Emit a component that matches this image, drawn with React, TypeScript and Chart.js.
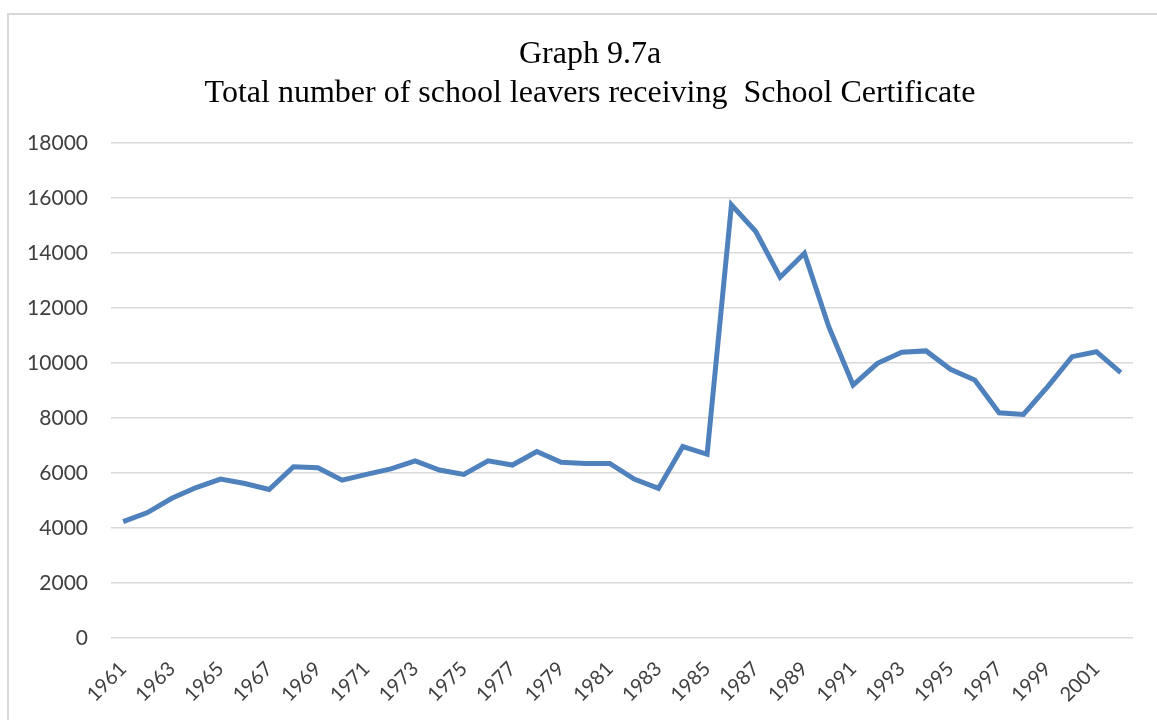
import React, { useEffect, useRef } from "react";
import { Chart, registerables } from "chart.js";

Chart.register(...registerables);

const years: string[] = [
  "1961", "1962", "1963", "1964", "1965", "1966", "1967", "1968", "1969", "1970",
  "1971", "1972", "1973", "1974", "1975", "1976", "1977", "1978", "1979", "1980",
  "1981", "1982", "1983", "1984", "1985", "1986", "1987", "1988", "1989", "1990",
  "1991", "1992", "1993", "1994", "1995", "1996", "1997", "1998", "1999", "2000",
  "2001", "2002",
];

const leavers: number[] = [
  4230, 4560, 5080, 5470, 5780, 5620, 5400, 6230, 6190, 5740,
  5950, 6150, 6440, 6110, 5950, 6440, 6290, 6780, 6390, 6350,
  6350, 5780, 5440, 6960, 6680, 15750, 14780, 13120, 13990, 11320,
  9200, 9990, 10390, 10440, 9770, 9380, 8190, 8130, 9140, 10230,
  10410, 9650,
];

const yTicks: number[] = [0, 2000, 4000, 6000, 8000, 10000, 12000, 14000, 16000, 18000];

const titleLines: string[] = [
  "Graph 9.7a",
  "Total number of school leavers receiving  School Certificate",
];

const titlePlugin = {
  id: "centredTitle",
  afterDraw(chart: any) {
    const ctx = chart.ctx as CanvasRenderingContext2D;
    ctx.save();
    ctx.fillStyle = "#000000";
    ctx.font = "32px 'Liberation Serif', 'Times New Roman', serif";
    ctx.textAlign = "center";
    ctx.textBaseline = "alphabetic";
    titleLines.forEach((line, i) => {
      ctx.fillText(line, 590, 63 + i * 39);
    });
    ctx.restore();
  },
};

export default function App() {
  const ref = useRef<HTMLCanvasElement | null>(null);

  useEffect(() => {
    if (!ref.current) return;
    const chart = new Chart(ref.current, {
      type: "line",
      data: {
        labels: years,
        datasets: [
          {
            label: "School Certificate",
            data: leavers,
            borderColor: "#4f81bd",
            backgroundColor: "#4f81bd",
            borderWidth: 5,
            pointRadius: 0,
            tension: 0,
            fill: false,
          },
        ],
      },
      plugins: [titlePlugin],
      options: {
        animation: false,
        responsive: false,
        maintainAspectRatio: false,
        layout: { padding: { top: 143, right: 24, bottom: 0, left: 0 } },
        plugins: {
          legend: { display: false },
          tooltip: { enabled: false },
          title: { display: false },
        },
        scales: {
          x: {
            type: "category",
            offset: true,
            grid: { display: false, drawTicks: false },
            border: { display: false },
            afterFit: (scale: any) => {
              scale.height = 82;
            },
            ticks: {
              autoSkip: false,
              maxRotation: 45,
              minRotation: 45,
              padding: 19,
              color: "#404040",
              font: { family: "Lato, 'Open Sans', sans-serif", size: 20 },
              callback: (_v: any, i: number) => (i % 2 === 0 ? years[i] : ""),
            },
          },
          y: {
            min: 0,
            max: 18000,
            afterBuildTicks: (scale: any) => {
              scale.ticks = yTicks.map((v) => ({ value: v }));
            },
            afterFit: (scale: any) => {
              scale.width = 111;
            },
            grid: { color: "#d9d9d9", lineWidth: 1.5, drawTicks: false },
            border: { display: false },
            ticks: {
              padding: 23,
              color: "#404040",
              font: { family: "Lato, 'Open Sans', sans-serif", size: 21 },
              callback: (v: any) => String(v),
            },
          },
        },
      },
    });
    return () => chart.destroy();
  }, []);

  return (
    <div style={{ position: "fixed", left: 0, top: 0, width: 1157, height: 720, overflow: "hidden", background: "#ffffff" }}>
      <div style={{ position: "absolute", left: 7, top: 13, width: 1150, height: 2, background: "#d9d9d9" }} />
      <div style={{ position: "absolute", left: 7, top: 13, width: 2, height: 707, background: "#d9d9d9" }} />
      <canvas ref={ref} width={1157} height={720} style={{ position: "absolute", left: 0, top: 0, width: 1157, height: 720 }} />
    </div>
  );
}
